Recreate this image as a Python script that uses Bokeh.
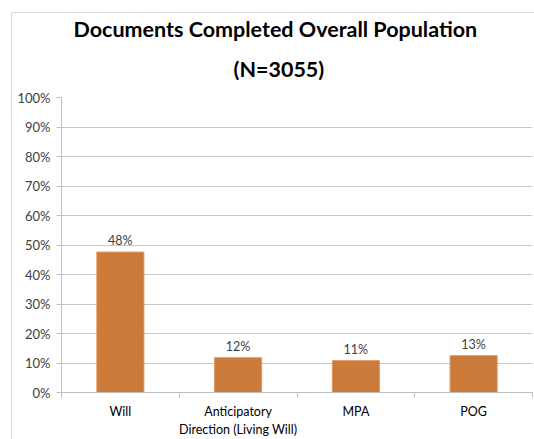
from bokeh.plotting import figure
from bokeh.models import (ColumnDataSource, FixedTicker, NumeralTickFormatter,
                          LabelSet, Range1d, Title, LinearAxis)
from bokeh.core.properties import value
from bokeh.embed import file_html
from bokeh.resources import INLINE

categories = ["Will", "Anticipatory\nDirection (Living Will)", "MPA", "POG"]
values = [0.476, 0.118, 0.108, 0.125]
value_labels = ["48%", "12%", "11%", "13%"]
y_ticks = [0.0, 0.1, 0.2, 0.3, 0.4, 0.5, 0.6, 0.7, 0.8, 0.9, 1.0]
title_lines = ["Documents Completed Overall Population", "(N=3055)"]

positions = [i + 0.5 for i in range(len(categories))]
boundaries = [float(i) for i in range(len(categories) + 1)]

src = ColumnDataSource(dict(x=positions, top=values, lab=value_labels))

# first line of each category on the main axis, second lines on a stacked axis
first_lines = {pos: c.split("\n")[0] for pos, c in zip(positions, categories)}
second_lines = {pos: c.split("\n", 1)[1] for pos, c in zip(positions, categories) if "\n" in c}

FONT = "Lato"
GRID = "#D9D9D9"
p = figure(width=534, height=439, output_backend="svg", toolbar_location=None,
           x_range=Range1d(0, len(categories)), y_range=Range1d(0, 1),
           min_border_left=61, min_border_right=2, min_border_top=97,
           min_border_bottom=44, title=None)
p.border_fill_color = None
p.background_fill_color = "white"
p.styles = {
    "background": (f"linear-gradient({GRID},{GRID}) 11px 12px / 1px 100% no-repeat, "
                   f"linear-gradient({GRID},{GRID}) 11px 12px / 100% 1px no-repeat, white")
}

for txt, stand, off in [(title_lines[1], 31, 172), (title_lines[0], -7, 12)]:
    t = Title(text=txt, align="left", text_font=FONT, text_font_size="21.5px",
              text_font_style="bold", text_color="#000000", offset=off,
              standoff=stand)
    p.add_layout(t, "above")

p.vbar(x="x", top="top", width=0.4, source=src, fill_color="#CC7A3A",
       line_color="#E09A62", line_width=1)

labels = LabelSet(x="x", y="top", text="lab", source=src, text_align="center",
                  text_baseline="bottom", y_offset=4, text_font=value(FONT),
                  text_font_size=value("12.5px"), text_color=value("#404040"))
p.add_layout(labels)

p.outline_line_color = None
p.xgrid.grid_line_color = None
p.ygrid.grid_line_color = "#C8C8C8"
p.ygrid.ticker = FixedTicker(ticks=y_ticks)

ya = p.yaxis[0]
ya.ticker = FixedTicker(ticks=y_ticks)
ya.formatter = NumeralTickFormatter(format="0%")
ya.axis_line_color = "#BFBFBF"
ya.major_tick_line_color = "#BFBFBF"
ya.major_tick_out = 5
ya.major_tick_in = 0
ya.minor_tick_line_color = None
ya.major_label_text_font = FONT
ya.major_label_text_font_size = "13px"
ya.major_label_text_color = "#404040"
ya.major_label_standoff = 6

xa = p.xaxis[0]
xa.ticker = FixedTicker(ticks=positions, minor_ticks=boundaries)
xa.major_label_overrides = first_lines
xa.axis_line_color = "#BFBFBF"
xa.major_tick_line_color = None
xa.major_tick_out = 0
xa.major_tick_in = 0
xa.minor_tick_line_color = "#BFBFBF"
xa.minor_tick_out = 5
xa.minor_tick_in = 0
xa.major_label_text_font = FONT
xa.major_label_text_font_size = "12.5px"
xa.major_label_text_color = "#000000"
xa.major_label_standoff = 6

xa2 = LinearAxis(ticker=FixedTicker(ticks=list(second_lines.keys())),
                 major_label_overrides=second_lines)
xa2.axis_line_color = None
xa2.major_tick_line_color = None
xa2.minor_tick_line_color = None
xa2.major_tick_out = 0
xa2.major_tick_in = 0
xa2.major_label_standoff = 0
xa2.major_label_text_font = FONT
xa2.major_label_text_font_size = "12.5px"
xa2.major_label_text_color = "#000000"
p.add_layout(xa2, "below")

open("out.html", "w").write(file_html(p, INLINE))
